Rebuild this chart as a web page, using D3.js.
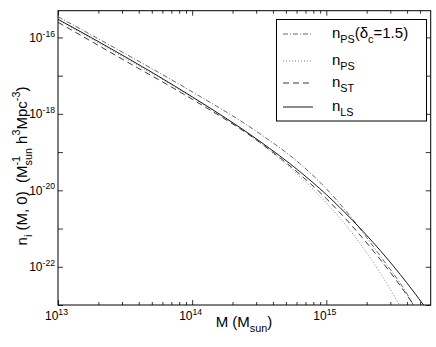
<!DOCTYPE html>
<html>
<head>
<meta charset="utf-8">
<script src="https://cdn.jsdelivr.net/npm/d3@7"></script>
<style>
  body { margin: 0; background: #fff; }
  svg { display: block; font-family: "Liberation Sans", Arial, Helvetica, sans-serif; }
  text { white-space: pre; }
</style>
</head>
<body>
<div id="container"></div>
<script>
// halo mass function values (M in Msun, n in Msun^-1 h^3 Mpc^-3)
const massPSdc = [1e13, 3.16e13, 1e14, 3.16e14, 6.31e14, 1e15, 1.58e15, 2.51e15, 3.98e15, 4.45e15];
const nPSdc    = [3.48e-16, 3.77e-17, 3.78e-18, 3.11e-19, 5.08e-20, 1.10e-20, 1.71e-21, 1.96e-22, 1.99e-23, 1e-23];

const massPS = [1e13, 3.16e13, 1e14, 3.16e14, 6.31e14, 1e15, 1.58e15, 2.51e15, 3.51e15];
const nPS    = [2.90e-16, 2.86e-17, 2.70e-18, 1.82e-19, 2.34e-20, 4.69e-21, 7.16e-22, 7.05e-23, 1e-23];

const massST = [1e13, 3.16e13, 1e14, 3.16e14, 6.31e14, 1e15, 1.58e15, 2.51e15, 3.98e15, 4.48e15];
const nST    = [2.49e-16, 2.46e-17, 2.42e-18, 1.84e-19, 2.67e-20, 6.07e-21, 1.10e-21, 1.59e-22, 1.84e-23, 1e-23];

const massLS = [1e13, 3.16e13, 1e14, 3.16e14, 6.31e14, 1e15, 1.58e15, 2.51e15, 3.98e15, 5.31e15];
const nLS    = [2.99e-16, 3.13e-17, 2.80e-18, 1.97e-19, 3.14e-20, 7.76e-21, 1.60e-21, 2.72e-22, 3.82e-23, 1e-23];

const xMajor = [1e13, 1e14, 1e15];
const xMinor = [2e13, 3e13, 4e13, 5e13, 6e13, 7e13, 8e13, 9e13,
                2e14, 3e14, 4e14, 5e14, 6e14, 7e14, 8e14, 9e14,
                2e15, 3e15, 4e15, 5e15];
const yTicks = [1e-23, 1e-22, 1e-21, 1e-20, 1e-19, 1e-18, 1e-17, 1e-16];
const yLabelled = [-22, -20, -18, -16];

const series = [
  {m: massPSdc, n: nPSdc, dash: "5,2,1,2", color: "#555", label: [["n"], ["PS", "sub"], ["(δ"], ["c", "sub"], ["=1.5)"]]},
  {m: massPS,   n: nPS,   dash: "1,2",     color: "#777", label: [["n"], ["PS", "sub"]]},
  {m: massST,   n: nST,   dash: "6,4",     color: "#222", label: [["n"], ["ST", "sub"]]},
  {m: massLS,   n: nLS,   dash: null,      color: "#000", label: [["n"], ["LS", "sub"]]}
];

const width = 436, height = 347;
const pLeft = 58, pRight = 430.7, pTop = 10.7, pBottom = 305;

const x = d3.scaleLog().domain([1e13, 6e15]).range([pLeft, pRight]);
const y = d3.scaleLog().domain([1e-23, 5e-16]).range([pBottom, pTop]);

const svg = d3.select("#container").append("svg")
  .attr("width", width)
  .attr("height", height)
  .attr("viewBox", [0, 0, width, height]);

// text with sub/superscripts; "stack" = superscript placed over the previous subscript
function rich(sel, parts, size) {
  let cur = 0, prevLen = 0, pending = 0;
  parts.forEach(([t, kind]) => {
    const shift = kind === "sub" ? size * 0.35 : (kind === "sup" || kind === "stack") ? -size * 0.45 : 0;
    const ts = sel.append("tspan")
      .attr("dy", shift - cur)
      .attr("font-size", kind ? size * 0.72 : size)
      .text(t);
    const len = ts.node().getComputedTextLength();
    if (kind === "stack") {
      ts.attr("dx", -prevLen);
      pending = Math.max(0, prevLen - len);
    } else if (pending) {
      ts.attr("dx", pending);
      pending = 0;
    }
    prevLen = len;
    cur = shift;
  });
}

svg.append("defs").append("clipPath").attr("id", "plot")
  .append("rect").attr("x", pLeft).attr("y", pTop)
  .attr("width", pRight - pLeft).attr("height", pBottom - pTop);

// ticks (inward, mirrored on all four sides)
const noLab = () => "";
const strip = g => g.select(".domain").remove();
svg.append("g").attr("transform", `translate(0,${pBottom})`)
  .call(d3.axisBottom(x).tickValues(xMinor).tickSize(-3).tickFormat(noLab)).call(strip);
svg.append("g").attr("transform", `translate(0,${pBottom})`)
  .call(d3.axisBottom(x).tickValues(xMajor).tickSize(-5).tickFormat(noLab)).call(strip);
svg.append("g").attr("transform", `translate(0,${pTop})`)
  .call(d3.axisTop(x).tickValues(xMinor).tickSize(-3).tickFormat(noLab)).call(strip);
svg.append("g").attr("transform", `translate(0,${pTop})`)
  .call(d3.axisTop(x).tickValues(xMajor).tickSize(-5).tickFormat(noLab)).call(strip);
svg.append("g").attr("transform", `translate(${pLeft},0)`)
  .call(d3.axisLeft(y).tickValues(yTicks).tickSize(-5).tickFormat(noLab)).call(strip);
svg.append("g").attr("transform", `translate(${pRight},0)`)
  .call(d3.axisRight(y).tickValues(yTicks).tickSize(-5).tickFormat(noLab)).call(strip);

svg.selectAll(".tick line").attr("stroke", "#000").attr("stroke-width", 0.8);

// tick labels
xMajor.forEach(v => {
  const t = svg.append("text")
    .attr("x", x(v) - 13).attr("y", 320)
    .attr("font-size", 12);
  rich(t, [["10"], [String(Math.round(Math.log10(v))), "sup"]], 12);
});
yLabelled.forEach(e => {
  const t = svg.append("text")
    .attr("x", 55).attr("y", y(Math.pow(10, e)) + 4.5)
    .attr("text-anchor", "end").attr("font-size", 12);
  rich(t, [["10"], ["-" + Math.abs(e), "sup"]], 12);
});

// curves
const line = d3.line()
  .x(d => x(d[0]))
  .y(d => y(d[1]))
  .curve(d3.curveMonotoneX);

const curves = svg.append("g").attr("clip-path", "url(#plot)");
series.forEach(s => {
  curves.append("path")
    .datum(s.m.map((m, i) => [m, s.n[i]]))
    .attr("fill", "none")
    .attr("stroke", s.color)
    .attr("stroke-width", 0.9)
    .attr("stroke-dasharray", s.dash)
    .attr("d", line);
});

// frame
svg.append("rect")
  .attr("x", pLeft).attr("y", pTop)
  .attr("width", pRight - pLeft).attr("height", pBottom - pTop)
  .attr("fill", "none").attr("stroke", "#000").attr("stroke-width", 1);

// legend
const lg = svg.append("g");
lg.append("rect")
  .attr("x", 276.5).attr("y", 19.5).attr("width", 150).attr("height", 101.5)
  .attr("fill", "#fff").attr("stroke", "#000").attr("stroke-width", 1);
const rowY = [34, 61, 83, 107];
series.forEach((s, i) => {
  lg.append("line")
    .attr("x1", 283).attr("x2", 313)
    .attr("y1", rowY[i]).attr("y2", rowY[i])
    .attr("stroke", s.color).attr("stroke-width", 0.9)
    .attr("stroke-dasharray", s.dash);
  const t = lg.append("text").attr("x", 332).attr("y", rowY[i] + 4).attr("font-size", 15);
  rich(t, s.label, 15);
});

// axis titles
const xt = svg.append("text").attr("x", 244).attr("y", 327)
  .attr("text-anchor", "middle").attr("font-size", 15);
rich(xt, [["M (M"], ["sun", "sub"], [")"]], 15);

const yt = svg.append("text")
  .attr("transform", "translate(27,166) rotate(-90)")
  .attr("text-anchor", "middle").attr("font-size", 15);
rich(yt, [["n"], ["i", "sub"], [" (M, 0)  (M"], ["sun", "sub"], ["-1", "stack"], [" h"], ["3", "sup"], ["Mpc"], ["-3", "sup"], [")"]], 15);
</script>
</body>
</html>
